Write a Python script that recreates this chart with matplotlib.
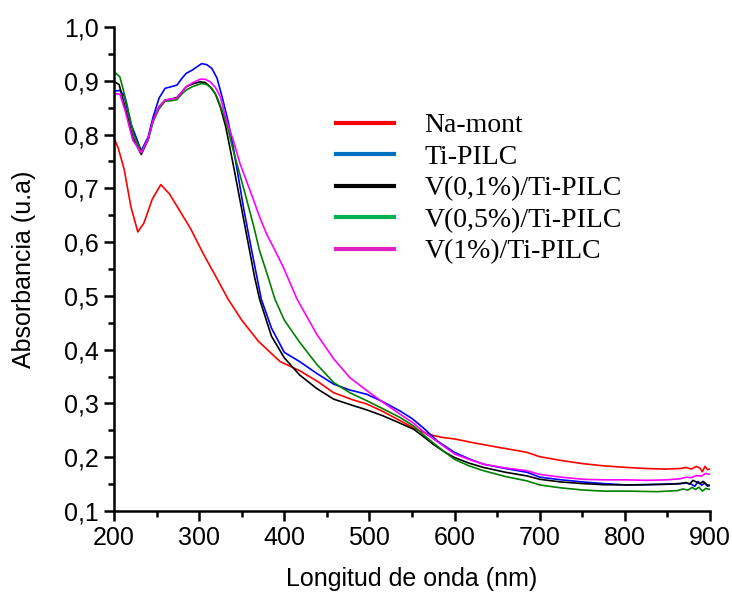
import matplotlib
matplotlib.use("Agg")
import matplotlib.pyplot as plt
from matplotlib.lines import Line2D
from matplotlib.ticker import MultipleLocator, FuncFormatter

plt.rcParams['font.family'] = ['Liberation Sans', 'DejaVu Sans']

labels = ["Na-mont", "Ti-PILC", "V(0,1%)/Ti-PILC", "V(0,5%)/Ti-PILC", "V(1%)/Ti-PILC"]
line_colors = ["#ff0000", "#0000ff", "#000000", "#008000", "#ff00ff"]
legend_colors = ["#ff0000", "#0070c0", "#000000", "#00b050", "#e020c0"]

na_x = [200, 205, 212, 220, 228, 235, 245, 255, 265, 277, 290, 305, 320, 334, 350, 370, 395, 418, 440, 458,
        480, 497, 516, 536, 555, 571, 585, 600, 625, 653, 675, 685, 700, 725, 751, 775, 802, 825, 849, 865,
        872, 878, 884, 888, 891, 894, 897, 900]
na_y = [0.794, 0.775, 0.735, 0.665, 0.619, 0.635, 0.680, 0.707, 0.690, 0.659, 0.625, 0.578, 0.535, 0.494, 0.455,
        0.415, 0.378, 0.361, 0.340, 0.320, 0.307, 0.299, 0.285, 0.268, 0.252, 0.242, 0.237, 0.234, 0.226, 0.218,
        0.212, 0.209, 0.201, 0.194, 0.188, 0.184, 0.181, 0.179, 0.178, 0.179, 0.181, 0.178, 0.183, 0.180, 0.173,
        0.183, 0.177, 0.178]

ti_x = [200, 207, 212, 220, 232, 240, 246, 253, 260, 267, 274, 280, 285, 292, 303, 309, 315, 321, 327, 334,
        340, 346, 352, 358, 364, 373, 385, 400, 418, 438, 458, 477, 497, 516, 536, 550, 563, 580, 600, 617,
        634, 660, 685, 700, 725, 751, 775, 802, 825, 849, 865, 872, 878, 882, 886, 890, 894, 897, 900]
ti_y = [0.881, 0.882, 0.872, 0.820, 0.770, 0.795, 0.833, 0.868, 0.886, 0.889, 0.892, 0.905, 0.914, 0.920, 0.932,
        0.930, 0.923, 0.905, 0.870, 0.825, 0.777, 0.722, 0.665, 0.615, 0.566, 0.494, 0.440, 0.395, 0.378, 0.356,
        0.336, 0.325, 0.317, 0.303, 0.286, 0.272, 0.255, 0.230, 0.209, 0.197, 0.187, 0.179, 0.172, 0.163, 0.158,
        0.154, 0.151, 0.1485, 0.149, 0.150, 0.151, 0.152, 0.150, 0.146, 0.155, 0.148, 0.152, 0.146, 0.148]

v01_x = [200, 206, 213, 222, 232, 240, 246, 253, 260, 267, 274, 280, 285, 292, 301, 307, 313, 319, 325, 331,
         336, 342, 348, 354, 360, 365, 371, 385, 400, 418, 438, 458, 481, 497, 516, 535, 552, 563, 575, 588,
         600, 617, 634, 660, 685, 700, 725, 751, 775, 802, 825, 849, 865, 872, 876, 880, 884, 888, 892, 896, 900]
v01_y = [0.899, 0.893, 0.851, 0.795, 0.763, 0.790, 0.827, 0.852, 0.864, 0.866, 0.869, 0.880, 0.889, 0.894, 0.898,
         0.897, 0.889, 0.876, 0.851, 0.816, 0.777, 0.728, 0.678, 0.628, 0.578, 0.536, 0.494, 0.425, 0.385, 0.353,
         0.328, 0.308, 0.296, 0.288, 0.277, 0.264, 0.252, 0.239, 0.224, 0.210, 0.1994, 0.189, 0.181, 0.172, 0.1653,
         0.159, 0.154, 0.151, 0.149, 0.1485, 0.149, 0.1497, 0.151, 0.153, 0.150, 0.157, 0.154, 0.151, 0.155, 0.149,
         0.147]

v05_x = [200, 203, 207, 215, 223, 232, 240, 246, 253, 260, 267, 274, 280, 285, 292, 303, 309, 315, 321, 327,
         334, 340, 348, 356, 364, 371, 380, 389, 400, 418, 438, 458, 477, 497, 516, 536, 552, 567, 585, 600,
         617, 634, 660, 685, 700, 725, 751, 775, 802, 838, 862, 868, 874, 879, 883, 887, 891, 895, 900]
v05_y = [0.915, 0.913, 0.907, 0.858, 0.800, 0.768, 0.790, 0.824, 0.848, 0.862, 0.863, 0.865, 0.876, 0.883, 0.889,
         0.895, 0.893, 0.886, 0.870, 0.845, 0.810, 0.771, 0.725, 0.678, 0.630, 0.584, 0.540, 0.494, 0.455, 0.414,
         0.373, 0.339, 0.320, 0.305, 0.290, 0.274, 0.258, 0.237, 0.214, 0.196, 0.184, 0.175, 0.164, 0.156, 0.1485,
         0.143, 0.139, 0.137, 0.137, 0.136, 0.138, 0.141, 0.139, 0.144, 0.140, 0.1445, 0.137, 0.142, 0.140]

v1_x = [200, 207, 213, 222, 232, 240, 246, 253, 260, 267, 274, 280, 285, 292, 301, 307, 313, 319, 325, 332,
        340, 348, 356, 364, 371, 379, 389, 399, 415, 438, 458, 477, 497, 516, 536, 552, 567, 585, 600, 617,
        634, 660, 685, 700, 725, 751, 775, 802, 825, 849, 865, 872, 878, 884, 890, 895, 900]
v1_y = [0.876, 0.875, 0.845, 0.790, 0.766, 0.792, 0.827, 0.852, 0.864, 0.866, 0.868, 0.880, 0.889, 0.896, 0.903,
        0.903, 0.898, 0.888, 0.870, 0.827, 0.790, 0.746, 0.712, 0.678, 0.647, 0.616, 0.585, 0.553, 0.494, 0.429,
        0.383, 0.348, 0.324, 0.302, 0.280, 0.263, 0.243, 0.223, 0.206, 0.196, 0.187, 0.180, 0.175, 0.168, 0.163,
        0.159, 0.158, 0.158, 0.157, 0.158, 0.160, 0.163, 0.162, 0.166, 0.165, 0.170, 0.168]

series = [(na_x, na_y), (ti_x, ti_y), (v01_x, v01_y), (v05_x, v05_y), (v1_x, v1_y)]

fig = plt.figure(figsize=(7.32, 5.94), dpi=100)
ax = fig.add_axes([0.1557, 0.1397, 0.8143, 0.8148])

for (xs, ys), c in zip(series, line_colors):
    ax.plot(xs, ys, color=c, lw=1.2)

ax.set_xlim(200, 900)
ax.set_ylim(0.1, 1.0)
ax.xaxis.set_major_locator(MultipleLocator(100))
ax.xaxis.set_minor_locator(MultipleLocator(50))
ax.yaxis.set_major_locator(MultipleLocator(0.1))
ax.yaxis.set_minor_locator(MultipleLocator(0.05))
ax.yaxis.set_major_formatter(FuncFormatter(lambda v, p: f"{v:.1f}".replace('.', ',')))

for s in ['top', 'right']:
    ax.spines[s].set_visible(False)
for s in ['left', 'bottom']:
    ax.spines[s].set_linewidth(1.8)
ax.tick_params(which='major', direction='out', length=7, width=1.8, labelsize=18, pad=4)
ax.tick_params(which='minor', direction='out', length=4, width=1.8)

ax.set_xlabel("Longitud de onda (nm)", fontsize=18, labelpad=12)
ax.set_ylabel("Absorbancia (u.a)", fontsize=18, labelpad=20)

handles = [Line2D([], [], color=c, lw=3) for c in legend_colors]
ax.legend(handles, labels, loc='upper left', bbox_to_anchor=(322 / 732, 1 - 99 / 594),
          bbox_transform=fig.transFigure, frameon=False,
          prop={'family': ['Liberation Serif', 'DejaVu Serif'], 'size': 20},
          handlelength=2.1, handletextpad=1.08, labelspacing=0.22, borderpad=0)

fig.savefig("out.png", dpi=100)
